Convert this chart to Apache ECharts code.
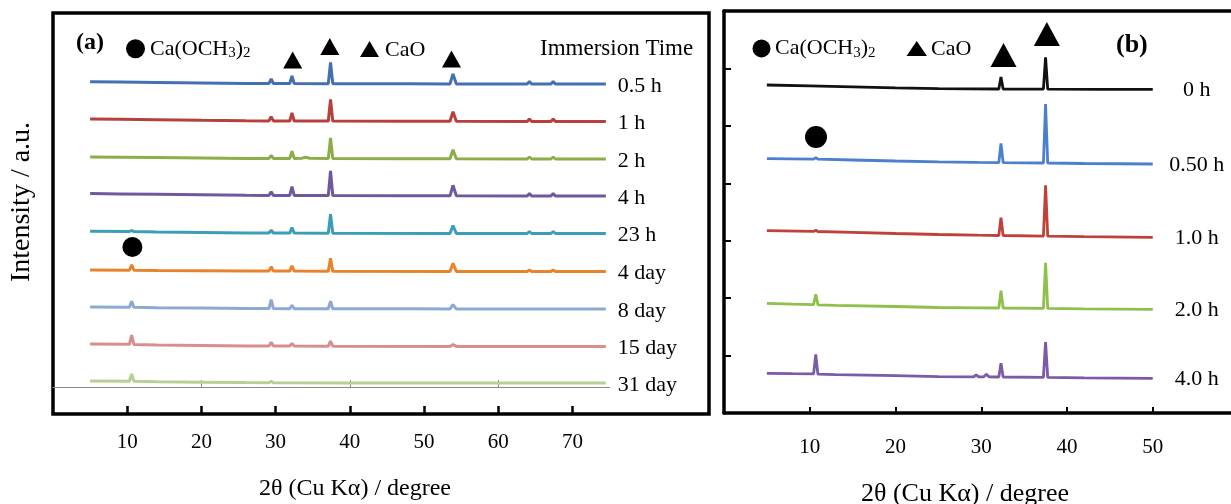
<!DOCTYPE html>
<html><head><meta charset="utf-8">
<script src="https://cdn.jsdelivr.net/npm/echarts@6/dist/echarts.min.js"></script>
<style>html,body{margin:0;padding:0;background:#fff}#c{width:1231px;height:504px}</style>
</head><body><div id="c"></div>
<script>
// ---------------- DATA : panel (a) ----------------
const labelsA = ['0.5 h','1 h','2 h','4 h','23 h','4 day','8 day','15 day','31 day'];
const offsetsA = [330, 292.5, 255, 218, 180.5, 142.5, 105, 67.5, 31];
const tickValuesA = [10, 20, 30, 40, 50, 60, 70];
const a_05h = [[5,2.3],[9,2],[14,1.6],[20,1.1],[26,0.6],[29.1,0.5],[29.4,5],[29.7,0.5],[31.9,0.4],[32.2,8],[32.5,0.4],[37.1,0.3],[37.4,21.5],[37.7,0.3],[47.5,0.2],[47.7,1.5],[47.9,0.2],[53.5,0.1],[53.9,10],[54.35,0.1],[63.9,0],[64.2,2.5],[64.5,0],[67.1,0],[67.4,2.5],[67.7,0],[74.5,0]];
const a_1h  = [[5,2.5],[9,2.2],[14,1.8],[20,1.2],[26,0.7],[29.1,0.6],[29.4,4.7],[29.7,0.6],[31.9,0.5],[32.2,8.7],[32.5,0.5],[37.1,0.4],[37.4,22],[37.7,0.4],[47.5,0.3],[47.7,1.2],[47.9,0.3],[53.5,0.2],[53.9,9.7],[54.35,0.2],[63.9,0],[64.2,2.5],[64.5,0],[67.1,0],[67.4,2.5],[67.7,0],[74.5,0]];
const a_2h  = [[5,2],[9,1.8],[14,1.5],[20,1],[26,0.6],[29.1,0.5],[29.4,3.7],[29.7,0.5],[31.9,0.5],[32.2,7.7],[32.5,0.6],[33.6,0.8],[34,1.8],[34.6,0.7],[37.1,0.4],[37.4,21],[37.7,0.4],[47.5,0.3],[47.7,1],[47.9,0.3],[53.5,0.2],[53.9,9.3],[54.35,0.2],[63.9,0],[64.2,2],[64.5,0],[67.1,0],[67.4,2],[67.7,0],[74.5,0]];
const a_4h  = [[5,2.4],[9,2.1],[14,1.7],[20,1.2],[26,0.7],[29.1,0.6],[29.4,4.3],[29.7,0.6],[31.9,0.5],[32.2,9.3],[32.5,0.5],[37.1,0.4],[37.4,25],[37.7,0.4],[47.5,0.3],[47.7,1.3],[47.9,0.3],[53.5,0.2],[53.9,10.7],[54.35,0.2],[63.9,0],[64.2,2.5],[64.5,0],[67.1,0],[67.4,2.5],[67.7,0],[74.5,0]];
const a_23h = [[5,2.2],[10.3,2],[10.6,3],[10.9,1.9],[14,1.6],[20,1.1],[26,0.6],[29.1,0.5],[29.4,3.3],[29.7,0.5],[31.9,0.4],[32.2,6],[32.5,0.4],[37.1,0.3],[37.4,19.3],[37.7,0.3],[53.5,0.1],[53.9,8],[54.35,0.1],[63.9,0],[64.2,2],[64.5,0],[67.1,0],[67.4,2],[67.7,0],[74.5,0]];
const a_4d  = [[5,1.5],[10.3,1.3],[10.6,6.7],[10.9,1.2],[14,1],[20,0.8],[26,0.5],[29.1,0.4],[29.4,4.7],[29.7,0.4],[31.9,0.4],[32.2,5.7],[32.5,0.4],[37.1,0.3],[37.4,13.3],[37.7,0.3],[53.5,0.1],[53.9,8.3],[54.35,0.1],[63.9,0],[64.2,1.5],[64.5,0],[67.1,0],[67.4,1.5],[67.7,0],[74.5,0]];
const a_8d  = [[5,2],[10.3,1.8],[10.6,7.7],[10.9,1.7],[14,1.3],[20,0.9],[26,0.5],[29.1,0.4],[29.4,9.3],[29.7,0.4],[31.9,0.3],[32.2,3.7],[32.5,0.3],[37.1,0.3],[37.4,7.7],[37.7,0.3],[47.1,0.2],[47.3,2],[47.5,0.2],[48.3,0.2],[48.5,2],[48.7,0.2],[53.5,0.1],[53.9,4.3],[54.35,0.1],[74.5,0]];
const a_15d = [[5,2.5],[10.3,2.2],[10.6,11.3],[10.9,2],[14,1.6],[20,1.1],[26,0.6],[29.1,0.5],[29.4,4.3],[29.7,0.5],[31.9,0.4],[32.2,3],[32.5,0.4],[37.1,0.3],[37.4,5.3],[37.7,0.3],[53.5,0.1],[53.9,2],[54.35,0.1],[74.5,0]];
const a_31d = [[5,2],[10.3,1.8],[10.6,9],[10.9,1.7],[14,1.2],[20,0.8],[26,0.4],[29.1,0.3],[29.4,1.8],[29.7,0.3],[40,0.1],[74.5,0]];
const tracesA = [a_05h, a_1h, a_2h, a_4h, a_23h, a_4d, a_8d, a_15d, a_31d];
const markersA = [{x:32.3,y:354,shape:'triangle'},{x:37.3,y:367.5,shape:'triangle'},{x:53.7,y:355,shape:'triangle'},{x:10.7,y:167,shape:'circle'}];
const greyRuleA = {min:0, max:75, tickMin:20, tickMax:60, tickStep:20};

// ---------------- DATA : panel (b) ----------------
const labelsB = ['0 h','0.50 h','1.0 h','2.0 h','4.0 h'];
const offsetsB = [323.7, 249, 175.7, 103.7, 34.7];
const tickValuesB = [10, 20, 30, 40, 50];
const b_0h  = [[5,4.3],[10,3.5],[15,2.5],[20,1.5],[25,0.6],[32.05,0.3],[32.3,12.3],[32.55,0.3],[37.25,0.2],[37.5,32],[37.75,0.2],[44,0],[50,0]];
const b_05h = [[5,5.3],[10.45,4.9],[10.7,6.3],[10.95,4.8],[15,4],[20,3],[25,2.2],[29.2,1.7],[29.4,3],[29.6,1.6],[32.05,1.4],[32.3,20.7],[32.55,1.4],[37.25,1],[37.5,60],[37.75,1],[42,0.5],[50,0]];
const b_1h  = [[5,6.6],[10.45,5.9],[10.7,7],[10.95,5.8],[15,5],[20,3.8],[25,2.8],[29.2,2.2],[29.4,3],[29.6,2.1],[32.05,1.8],[32.3,19.6],[32.55,1.8],[37.25,1.2],[37.5,52],[37.75,1.2],[42,0.6],[50,0]];
const b_2h  = [[5,6],[8,5.2],[10.45,4.7],[10.7,15],[10.95,4.5],[13,4],[20,2.8],[25,1.8],[29.2,1.5],[29.4,3],[29.6,1.4],[32.05,1.3],[32.3,18.6],[32.55,1.3],[37.25,0.9],[37.5,46.6],[37.75,0.9],[42,0.4],[50,0]];
const b_4h  = [[5,5],[8,4.6],[10.45,4.4],[10.7,24],[10.95,4.2],[13,3.7],[20,2.6],[25,1.6],[29.1,1.4],[29.4,3.5],[29.7,1.4],[30.3,1.5],[30.6,4],[30.9,1.5],[32.05,1.3],[32.3,15],[32.55,1.3],[37.25,1],[37.5,36.3],[37.75,1],[42,0.5],[50,0]];
const tracesB = [b_0h, b_05h, b_1h, b_2h, b_4h];
const markersB = [{x:32.6,y:358,shape:'triangle'},{x:37.65,y:379,shape:'triangle'},{x:10.73,y:276,shape:'circle'}];

// ---------------- LAYOUT / STYLE ----------------
const colorsA = ['#4470b0','#b8403c','#8cae48','#70589e','#3a9fb6','#e8832c','#8ea8d4','#d88e8e','#b6d193'];
const colorsB = ['#111111','#4a80cc','#c0403a','#8fc04c','#7b5aa8'];
const FF = "'Liberation Serif','Times New Roman',serif";
const markerSizeA = {triangle:[19,17], circle:20};
const markerSizeB = {triangle:[26,24], circle:22};

// plot areas (pixels) and axis extents
const A = {left:53, top:13, width:656, height:401, xMax:88.4, yMax:401};
const pxA = A.width / A.xMax;
const pxB = 8.575;
const B = {left:724, top:11, width:507, height:402, yMax:402};
B.xMax = B.width / pxB;
const greyLineY = 387;
const frameLine = {show:true, lineStyle:{color:'#000', width:3.5}};

const series = [];
tracesA.forEach((t, i) => {
  series.push({
    type:'line', name: labelsA[i], xAxisIndex:0, yAxisIndex:0,
    data: t.map(p => [p[0], p[1] + offsetsA[i]]),
    showSymbol:false, symbol:'none', silent:true,
    lineStyle:{width:3, color:colorsA[i]}, itemStyle:{color:colorsA[i]},
    endLabel:{show:true, formatter:'{a}', distance:12, offset:[0,2], color:'#000', fontFamily:FF, fontSize:22}
  });
});
tracesB.forEach((t, i) => {
  series.push({
    type:'line', name: labelsB[i], xAxisIndex:1, yAxisIndex:1,
    data: t.map(p => [p[0], p[1] + offsetsB[i]]),
    showSymbol:false, symbol:'none', silent:true,
    lineStyle:{width:2.8, color:colorsB[i]}, itemStyle:{color:colorsB[i]},
    endLabel:{show:true, formatter:'{a}', distance:44, align:'center', offset:[0,1], color:'#000', fontFamily:FF, fontSize:22}
  });
});
series.push({
  type:'scatter', xAxisIndex:0, yAxisIndex:0, silent:true, z:5,
  itemStyle:{color:'#000', opacity:1},
  data: markersA.map(m => ({value:[m.x, m.y], symbol:m.shape, symbolSize:markerSizeA[m.shape]}))
});
series.push({
  type:'scatter', xAxisIndex:1, yAxisIndex:1, silent:true, z:5,
  itemStyle:{color:'#000', opacity:1},
  data: markersB.map(m => ({value:[m.x, m.y], symbol:m.shape, symbolSize:markerSizeB[m.shape]}))
});

const txt = (x, y, text, size, extra) => Object.assign({
  type:'text', x, y, silent:true,
  style:Object.assign({text, fill:'#000', fontFamily:FF, fontSize:size,
    align:'left', verticalAlign:'middle', textAlign:'left', textVerticalAlign:'middle'}, (extra && extra.style) || {})
}, extra ? {rotation: extra.rotation || 0} : {});

const chemRich = size => ({
  n:{fontFamily:FF, fontSize:size, lineHeight:24, verticalAlign:'middle', color:'#000'},
  s:{fontFamily:FF, fontSize:Math.round(size*0.68), lineHeight:12, verticalAlign:'bottom', color:'#000'}
});

const graphic = [
  // panel (a)
  txt(76, 43, '(a)', 24, {style:{fontWeight:'bold'}}),
  {type:'circle', shape:{cx:135.5, cy:48.8, r:9.5}, style:{fill:'#000'}, silent:true},
  {type:'text', x:150, y:49, silent:true, style:{text:'{n|Ca(OCH}{s|3}{n|)}{s|2}', rich:chemRich(22), align:'left', verticalAlign:'middle', textAlign:'left', textVerticalAlign:'middle'}},
  {type:'polygon', shape:{points:[[360,57],[369.5,41],[379,57]]}, style:{fill:'#000'}, silent:true},
  txt(385, 50, 'CaO', 22),
  txt(540, 49, 'Immersion Time', 23),
  txt(355, 489, '2θ (Cu Kα) / degree', 24, {style:{align:'center', textAlign:'center'}}),
  txt(22, 202, 'Intensity / a.u.', 28, {rotation:Math.PI/2, style:{align:'center', textAlign:'center'}}),
  // panel (b)
  {type:'circle', shape:{cx:761.5, cy:48.5, r:9}, style:{fill:'#000'}, silent:true},
  {type:'text', x:775, y:48.5, silent:true, style:{text:'{n|Ca(OCH}{s|3}{n|)}{s|2}', rich:chemRich(22), align:'left', verticalAlign:'middle', textAlign:'left', textVerticalAlign:'middle'}},
  {type:'polygon', shape:{points:[[906.5,56],[916.7,41],[927,56]]}, style:{fill:'#000'}, silent:true},
  txt(931, 49, 'CaO', 22),
  txt(1116, 45, '(b)', 26, {style:{fontWeight:'bold'}}),
  txt(965, 494, '2θ (Cu Kα) / degree', 26, {style:{align:'center', textAlign:'center'}})
];

const tA0 = tickValuesA[0], tA1 = tickValuesA[tickValuesA.length-1];
const tB0 = tickValuesB[0], tB1 = tickValuesB[tickValuesB.length-1];
const hidden = {axisLine:{show:false}, axisTick:{show:false}, axisLabel:{show:false}, splitLine:{show:false}};

const option = {
  animation:false,
  backgroundColor:'#fff',
  grid:[
    // 0: panel (a) frame + data
    {left:A.left, top:A.top, width:A.width, height:A.height, show:true, borderColor:'#000', borderWidth:3.5, backgroundColor:'transparent'},
    // 1: panel (b) data (frame drawn by its axis lines: open on the right)
    {left:B.left, top:B.top, width:B.width, height:B.height, show:false},
    // 2: ticks + labels of (a)
    {left:A.left + tA0*pxA, top:A.top, width:(tA1-tA0)*pxA, height:A.height, show:false},
    // 3: ticks + labels of (b)
    {left:B.left + tB0*pxB, top:B.top, width:(tB1-tB0)*pxB, height:B.height, show:false},
    // 4: grey rule inside (a)
    {left:A.left + greyRuleA.min*pxA, top:A.top, width:(greyRuleA.max-greyRuleA.min)*pxA, height:greyLineY-A.top, show:false},
    // 5: grey rule ticks
    {left:A.left + greyRuleA.tickMin*pxA, top:A.top, width:(greyRuleA.tickMax-greyRuleA.tickMin)*pxA, height:greyLineY-A.top, show:false}
  ],
  xAxis:[
    Object.assign({type:'value', gridIndex:0, min:0, max:A.xMax}, hidden),
    {type:'value', gridIndex:1, min:0, max:B.xMax, position:'bottom',
     axisLine:frameLine, axisTick:{show:false}, axisLabel:{show:false}, splitLine:{show:false}},
    {type:'value', gridIndex:2, min:tA0, max:tA1, interval:10,
     axisLine:{show:false}, splitLine:{show:false},
     axisTick:{show:true, inside:true, length:8, lineStyle:{color:'#000', width:2.5}},
     axisLabel:{show:true, margin:18, color:'#000', fontFamily:FF, fontSize:21}},
    {type:'value', gridIndex:3, min:tB0, max:tB1, interval:10,
     axisLine:{show:false}, splitLine:{show:false},
     axisTick:{show:true, inside:true, length:6, lineStyle:{color:'#000', width:2}},
     axisLabel:{show:true, margin:24, color:'#000', fontFamily:FF, fontSize:21}},
    {type:'value', gridIndex:4, min:greyRuleA.min, max:greyRuleA.max,
     axisLine:{show:true, lineStyle:{color:'#8a8a8a', width:1.2}}, axisTick:{show:false}, axisLabel:{show:false}, splitLine:{show:false}},
    {type:'value', gridIndex:5, min:greyRuleA.tickMin, max:greyRuleA.tickMax, interval:greyRuleA.tickStep,
     axisLine:{show:false}, splitLine:{show:false}, axisLabel:{show:false},
     axisTick:{show:true, inside:true, length:7, lineStyle:{color:'#8a8a8a', width:1}}},
    // top frame line of (b)
    {type:'value', gridIndex:1, min:0, max:B.xMax, position:'top',
     axisLine:frameLine, axisTick:{show:false}, axisLabel:{show:false}, splitLine:{show:false}}
  ],
  yAxis:[
    Object.assign({type:'value', gridIndex:0, min:0, max:A.yMax}, hidden),
    {type:'value', gridIndex:1, min:0, max:B.yMax, interval:57.4, position:'left',
     axisLine:frameLine, splitLine:{show:false}, axisLabel:{show:false},
     axisTick:{show:true, inside:true, length:7, lineStyle:{color:'#000', width:2}}},
    Object.assign({type:'value', gridIndex:2, min:0, max:1}, hidden),
    Object.assign({type:'value', gridIndex:3, min:0, max:1}, hidden),
    Object.assign({type:'value', gridIndex:4, min:0, max:1}, hidden),
    Object.assign({type:'value', gridIndex:5, min:0, max:1}, hidden)
  ],
  graphic:graphic,
  series:series
};
const chart = echarts.init(document.getElementById('c'), null, {renderer:'canvas'});
chart.setOption(option);
</script>
</body></html>
